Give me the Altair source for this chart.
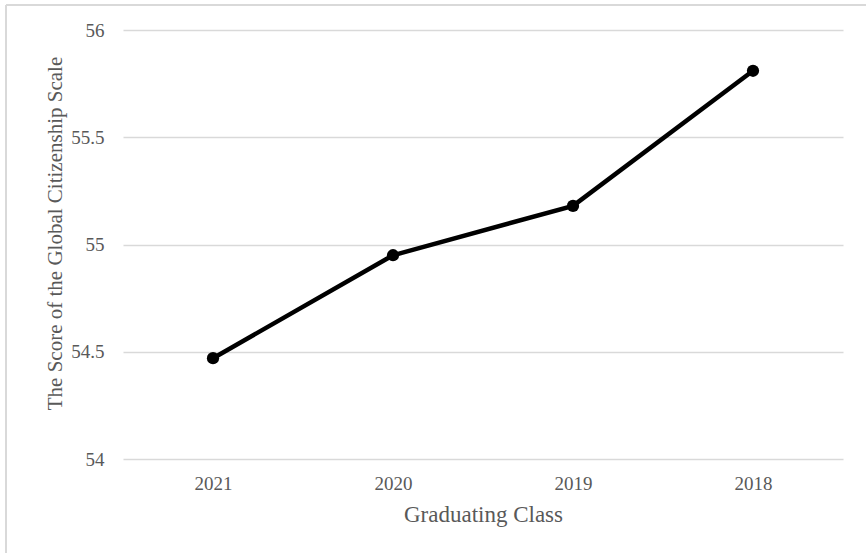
import altair as alt
import pandas as pd

classes = ["2021", "2020", "2019", "2018"]
scores = [54.47, 54.95, 55.18, 55.81]

df = pd.DataFrame({"cls": classes, "score": scores})

FONT = "Liberation Serif"
GRAY = "#595959"

base = alt.Chart(df).encode(
    x=alt.X("cls:N", sort=classes, title="Graduating Class",
            scale=alt.Scale(paddingInner=0, paddingOuter=0.5),
            axis=alt.Axis(labelAngle=0, ticks=False, domain=False, grid=False,
                          labelPadding=15, titlePadding=10, titleFontSize=23)),
    y=alt.Y("score:Q", title="The Score of the Global Citizenship Scale",
            scale=alt.Scale(domain=[54, 56], nice=False, zero=False),
            axis=alt.Axis(values=[54, 54.5, 55, 55.5, 56], format="~g", ticks=False, domain=False,
                          labelPadding=19, titlePadding=5, titleY=203,
                          gridColor="#d9d9d9", gridWidth=1.3)),
)

line = base.mark_line(color="black", strokeWidth=4.5)
pts = base.mark_point(filled=True, color="black", size=150, opacity=1)

border = alt.Chart(df).mark_rule(color="#d9d9d9", strokeWidth=2).encode(
    x=alt.value(-117), y=alt.value(-25), y2=alt.value(600)
)
border_top = alt.Chart(df).mark_rule(color="#d9d9d9", strokeWidth=2).encode(
    x=alt.value(-117), x2=alt.value(800), y=alt.value(-25)
)

chart = alt.layer(border, border_top, line, pts).properties(
    width=720, height=429,
    autosize=alt.AutoSizeParams(type="none"),
    padding={"left": 123, "top": 30, "right": 23, "bottom": 94},
).configure_view(stroke=None).configure_axis(
    labelFont=FONT, titleFont=FONT, labelColor=GRAY, titleColor=GRAY,
    labelFontSize=19, titleFontSize=21, titleFontWeight="normal"
)

chart.save("out.html", embed_options={"renderer": "svg", "actions": False})
